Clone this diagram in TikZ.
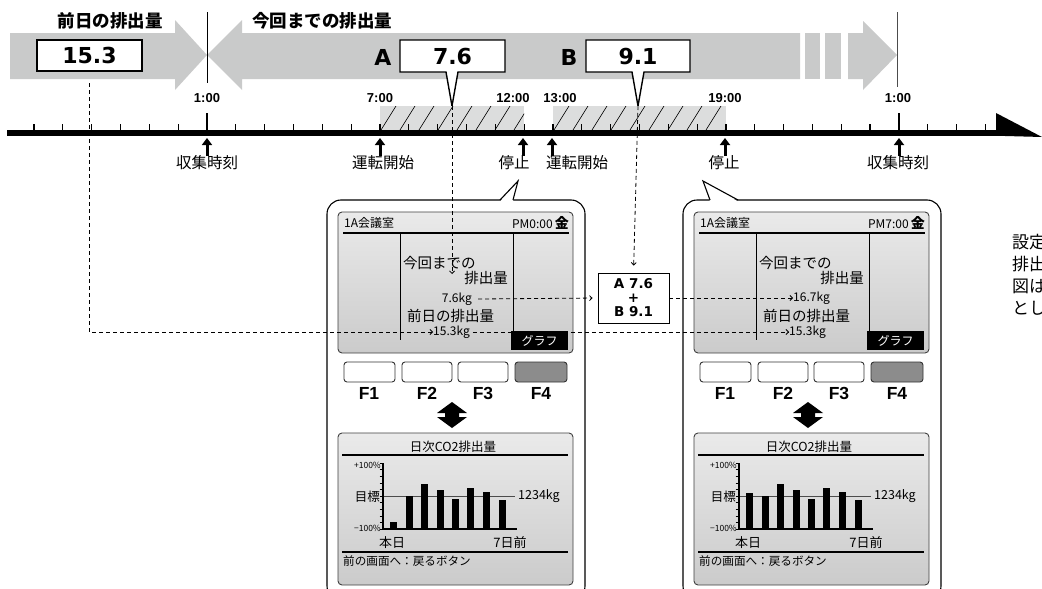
\documentclass[tikz,border=0pt]{standalone}
\usepackage{fontspec}
\setmainfont{Noto Sans CJK JP}
\newfontfamily\libs{Liberation Sans}
\newfontfamily\dvs{DejaVu Sans}
\usetikzlibrary{arrows.meta}
\definecolor{band}{HTML}{C9CACA}
\definecolor{hatchbg}{HTML}{DCDDDD}
\definecolor{fkey}{HTML}{8C8C8C}
\definecolor{scrtop}{HTML}{EAEAEA}
\definecolor{scrbot}{HTML}{CBCBCB}
\tikzset{
  jp/.style={inner sep=0pt, font=\fontsize{#1}{#1}\selectfont},
  jpb/.style={inner sep=0pt, font=\bfseries\fontsize{#1}{#1}\selectfont},
  hourlbl/.style={inner sep=0pt, font=\libs\bfseries\fontsize{13}{13}\selectfont},
  numbig/.style={inner sep=0pt, font=\dvs\bfseries\fontsize{22}{22}\selectfont},
  fkeylbl/.style={inner sep=0pt, font=\libs\bfseries\fontsize{17.5}{17.5}\selectfont},
  dline/.style={dash pattern=on 4pt off 3pt, line width=0.8pt},
  dlinea/.style={dline, -{Straight Barb[length=2.5pt,width=5pt]}},
  evarr/.style={line width=3pt, -{Triangle[width=10pt,length=7pt]}},
  scrbox/.style={rounded corners=4pt, draw=black!75, line width=0.9pt, top color=scrtop, bottom color=scrbot},
  fkbox/.style={rounded corners=3pt, draw=black!80, line width=0.9pt},
  callout/.style={draw=black, line width=1.4pt, fill=white}
}
\newcommand\devpanel[4]{%
\begin{scope}[xshift=#1]
  \draw[line width=1.1pt, fill=white, rounded corners=14pt] (327,200) rectangle (585,600);
  % upper screen
  \draw[scrbox] (338,212) rectangle (573,353);
  \node[jp=12, anchor=west] (room#3) at (344,223) {1A会議室};
  \node[jp=12, anchor=east] (clk#3) at (569,223) {#2\,{\bfseries\fontsize{14}{14}\selectfont 金}};
  \draw[line width=2pt] (343,233) -- (569,233);
  \draw[line width=0.8pt] (400,233) -- (400,340);
  \draw[line width=0.8pt] (513,233) -- (513,331);
  \node[jp=14.5, anchor=west] (kon#3) at (403,263) {今回までの};
  \node[jp=14.5, anchor=east] (hai#3) at (508,278) {排出量};
  \node[jp=14.5, anchor=west] (zen#3) at (407,316) {前日の排出量};
  \node[jp=12, anchor=west] (prev#3) at (433,332) {15.3kg};
  \node[fill=black, text=white, minimum width=57pt, minimum height=19pt, inner sep=0pt,
        font=\fontsize{12}{12}\selectfont] (gr#3) at (539.5,340.5) {グラフ};
  % function keys
  \draw[fkbox, fill=white] (344,362) rectangle (395,382);
  \draw[fkbox, fill=white] (402,362) rectangle (452,382);
  \draw[fkbox, fill=white] (458,362) rectangle (508,382);
  \draw[fkbox, fill=fkey] (515,362) rectangle (567,382);
  \node[fkeylbl] (fa#3) at (369,393) {F1};
  \node[fkeylbl] (fb#3) at (427,393) {F2};
  \node[fkeylbl] (fc#3) at (483,393) {F3};
  \node[fkeylbl] (fd#3) at (541,393) {F4};
  % double arrow
  \fill (452,402) -- (467,413) -- (459,413) -- (459,417) -- (467,417) -- (452,428)
        -- (437,417) -- (445,417) -- (445,413) -- (437,413) -- cycle;
  % lower screen
  \draw[scrbox] (338,433) rectangle (573,585);
  \node[jp=12.5] (ttl#3) at (453,447) {日次CO2排出量};
  \draw[line width=1.8pt] (342,455) -- (568,455);
  \draw[line width=1pt, black!70] (383,496) -- (515,496);
  \foreach \k in {0,...,10} \draw[line width=0.6pt] (379.5,{463+6.6*\k}) -- (383,{463+6.6*\k});
  \draw[line width=1.5pt] (383,463) -- (383,529) -- (517,529);
  \foreach \xx/\tt in {390/#4, 406/496, 421/484, 437/490, 452/499, 467/488, 483/492, 499/500}
    \fill (\xx,529) rectangle (\xx+6.5,\tt);
  \node[jp=12.5, anchor=west] (kg#3) at (518,496) {1234kg};
  \node[jp=8.5, anchor=east] (pp#3) at (381,465) {+100\%};
  \node[jp=12.5, anchor=east] (mk#3) at (380,497) {目標};
  \node[jp=8.5, anchor=east] (mm#3) at (381,528) {−100\%};
  \node[jp=13] (hon#3) at (392,543) {本日};
  \node[jp=13] (sev#3) at (510,543) {7日前};
  \draw[line width=1.2pt] (342,552) -- (568,552);
  \node[jp=11.6, anchor=west] (back#3) at (343,561) {前の画面へ：戻るボタン};
\end{scope}}
\begin{document}
\begin{tikzpicture}[x=1pt, y=-1pt]
\useasboundingbox (0,0) rectangle (1042,589);
\clip (0,0) rectangle (1042,589);
\fill[white] (0,0) rectangle (1042,589);

% ---- top band arrows
\fill[band] (10,33) -- (175,33) -- (175,20) -- (207,55) -- (175,90) -- (175,79) -- (10,79) -- cycle;
\fill[band] (207,55) -- (242,20) -- (242,33) -- (800,33) -- (800,79) -- (242,79) -- (242,90) -- cycle;
\fill[band] (805,33) rectangle (820,79);
\fill[band] (825,33) rectangle (841,79);
\fill[band] (848,33) -- (863,33) -- (863,21) -- (897,55) -- (863,90) -- (863,79) -- (848,79) -- cycle;
\draw[line width=1pt] (207,12) -- (207,83);
\draw[line width=1pt, black!70] (897,12) -- (897,87);

\node[jpb=17.5] (lprev) at (110,21) {前日の排出量};
\node[jpb=17.5] (lcur) at (322,21) {今回までの排出量};

% value boxes
\node[draw, line width=1.4pt, fill=white, minimum width=105pt, minimum height=31pt, inner sep=0pt] (v153) at (89.5,55.5) {};
\node[numbig] (t153) at (v153.center) {15.3};
\draw[callout] (400,40) -- (505,40) -- (505,72) -- (458,72) -- (452,106) -- (446,72) -- (400,72) -- cycle;
\node[numbig] (t76) at (452.5,56.5) {7.6};
\node[numbig] (la) at (383,57) {A};
\draw[callout] (586,40) -- (690,40) -- (690,72) -- (644,72) -- (638,106) -- (632,72) -- (586,72) -- cycle;
\node[numbig] (t91) at (638,56.5) {9.1};
\node[numbig] (lb) at (569,57) {B};
\coordinate (tipA) at (452,106);
\coordinate (tipB) at (638,106);

% ---- hatched operating periods
\fill[hatchbg] (380,106) rectangle (524,130);
\fill[hatchbg] (553,106) rectangle (726,130);
\begin{scope}
  \clip (380,106) rectangle (524,130);
  \foreach \x in {362,381,...,540} \draw[line width=0.6pt] (\x,130) -- (\x+15,106);
\end{scope}
\begin{scope}
  \clip (553,106) rectangle (726,130);
  \foreach \x in {535,554,...,740} \draw[line width=0.6pt] (\x,130) -- (\x+15,106);
\end{scope}

% ---- time axis
\foreach \i in {-6,...,27} \draw[line width=1.2pt] ({207+28.83*\i},124) -- ({207+28.83*\i},131);
\draw[line width=2pt] (207,113) -- (207,131);
\draw[line width=2pt] (899,113) -- (899,131);
\draw[line width=5.5pt] (7,133) -- (1000,133);
\fill (996,113) -- (1042,137) -- (996,135.75) -- cycle;

\node[hourlbl] (h1) at (207,98) {1:00};
\node[hourlbl] (h7) at (380,98) {7:00};
\node[hourlbl] (h12) at (513,98) {12:00};
\node[hourlbl] (h13) at (560,98) {13:00};
\node[hourlbl] (h19) at (725,98) {19:00};
\node[hourlbl] (h25) at (898,98) {1:00};

% event arrows and labels
\foreach \x/\nm in {207/a, 380/b, 523/c, 552/d, 725/e, 899/f} {
  \coordinate (eb\nm) at (\x,156);
  \coordinate (et\nm) at (\x,138);
  \draw[evarr] (eb\nm) -- (et\nm);
}
\node[jp=15.5] (e1) at (207,163) {収集時刻};
\node[jp=15.5] (e2) at (383,163) {運転開始};
\node[jp=15.5] (e3) at (514,163) {停止};
\node[jp=15.5] (e4) at (577,163) {運転開始};
\node[jp=15.5] (e5) at (724,163) {停止};
\node[jp=15.5] (e6) at (898,163) {収集時刻};

% ---- device panels
\devpanel{0pt}{PM0:00}{L}{522}
\devpanel{356pt}{PM7:00}{R}{493}
% callout pointers of the panels
\fill[white] (500,201.5) -- (518,181) -- (513,201.5) -- cycle;
\draw[line width=1.1pt] (500,200) -- (518,181) -- (513,200);
\fill[white] (710,201.5) -- (703,181) -- (738,201.5) -- cycle;
\draw[line width=1.1pt] (710,200) -- (703,181) -- (738,200);

% current values
\node[jp=12, anchor=east] (curL) at (472,299) {7.6kg};
\node[jp=12, anchor=west] (curR) at (793,298) {16.7kg};

% sum box
\node[draw, line width=0.9pt, fill=white, minimum width=71pt, minimum height=50pt, inner sep=0pt,
      align=center, font=\dvs\bfseries\fontsize{13.5}{14}\selectfont] (sum) at (633.5,298) {A 7.6\\+\\B 9.1};

% ---- dashed connectors
\coordinate (c0) at (89,83);
\coordinate (endA) at (452,274);
\draw[dlinea] (c0) |- (prevL.west);
\draw[dlinea] ([xshift=3pt]prevL.east) -- (prevR.west);
\draw[dlinea] (tipA) -- (endA);
\draw[dlinea, shorten >=5pt] ([xshift=6pt]curL.east) -- (sum.west);
\draw[dlinea, shorten >=7pt] (tipB) -- (sum.north);
\draw[dlinea] (sum.east) -- (curR.west);
\node[fill=black, text=white, minimum width=57pt, minimum height=19pt, inner sep=0pt,
      font=\fontsize{12}{12}\selectfont] (grL2) at (539.5,340.5) {グラフ};

% ---- right margin text (cut by the frame)
\node[jp=17, anchor=west] (r1) at (1012,242) {設定};
\node[jp=17, anchor=west] (r2) at (1012,264) {排出};
\node[jp=17, anchor=west] (r3) at (1012,286) {図は};
\node[jp=17, anchor=west] (r4) at (1012,308) {とし};
\end{tikzpicture}
\end{document}
